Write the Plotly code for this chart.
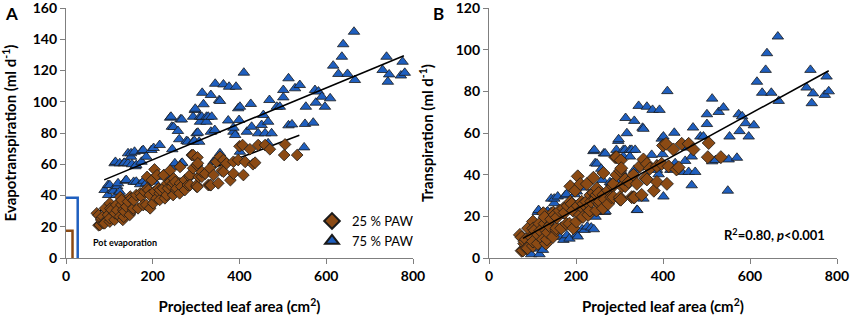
import plotly.graph_objects as go

# ---------------- data ----------------
# 75 % PAW : projected leaf area (cm2) and evapotranspiration (ml/d)
paw75_area = [89, 97, 97, 101, 108, 110, 112, 114, 116, 118, 120, 124, 124, 133, 135, 137, 139, 143, 143, 150,
              150, 152, 156, 158, 160, 162, 162, 171, 174, 175, 178, 179, 185, 185, 197, 201, 202, 204, 214, 216,
              220, 226, 235, 240, 241, 242, 244, 245, 245, 248, 251, 258, 261, 264, 266, 267, 268, 278, 281, 293,
              293, 296, 297, 298, 301, 304, 307, 309, 309, 313, 314, 317, 324, 324, 328, 334, 334, 336, 340, 341,
              343, 344, 353, 355, 355, 363, 374, 376, 386, 386, 390, 392, 397, 399, 401, 401, 410, 417, 426, 428,
              443, 451, 455, 459, 466, 466, 469, 474, 486, 493, 501, 501, 513, 513, 521, 528, 539, 549, 551, 553,
              570, 574, 576, 582, 590, 597, 609, 616, 628, 636, 639, 649, 664, 666, 730, 739, 742, 745, 772, 776, 781]
paw75_et = [43.5, 40.3, 46.7, 46.6, 43.5, 43.0, 60.6, 61.5, 40.3, 46.0, 47.8, 42.4, 60.6, 60.6, 60.9, 49.4, 49.9, 60.6, 67.0, 64.8,
            67.0, 60.0, 48.7, 68.0, 58.7, 48.8, 59.5, 47.2, 61.6, 68.5, 69.1, 49.4, 64.8, 47.8, 69.1, 49.8, 70.4, 48.8, 52.3, 72.3,
            52.0, 53.6, 53.1, 89.8, 52.3, 90.4, 84.0, 58.3, 69.6, 83.8, 60.6, 81.3, 76.0, 88.7, 60.6, 88.7, 60.9, 74.9, 74.4, 74.4,
            90.4, 74.9, 94.7, 95.5, 79.8, 80.2, 74.4, 87.2, 90.4, 90.4, 105.7, 98.4, 90.4, 87.2, 90.4, 104.3, 80.8, 90.4, 61.6, 61.5,
            81.9, 111.5, 101.0, 67.0, 100.5, 111.1, 88.0, 109.6, 80.8, 83.4, 78.7, 109.6, 95.8, 88.3, 96.8, 68.0, 118.6, 80.8, 98.6, 84.0,
            79.8, 85.1, 91.5, 79.8, 87.2, 73.4, 101.1, 79.8, 96.8, 96.8, 107.5, 102.8, 115.0, 84.9, 85.5, 108.6, 110.7, 70.8, 85.8, 96.8,
            86.6, 107.5, 99.4, 106.5, 103.2, 96.8, 102.2, 123.1, 117.8, 128.8, 136.8, 117.8, 144.8, 113.9, 120.3, 128.8, 112.8, 117.5, 116.8, 125.6, 118.5]

# 25 % PAW : projected leaf area (cm2) and evapotranspiration (ml/d)
paw25_area = [71, 75, 75, 78, 81, 82, 85, 86, 89, 90, 97, 101, 101, 101, 102, 105, 112, 113, 116, 118,
              124, 125, 128, 128, 131, 132, 133, 135, 139, 143, 147, 148, 151, 155, 155, 156, 162, 166, 171, 174,
              178, 181, 185, 187, 187, 190, 193, 194, 198, 201, 204, 204, 209, 210, 213, 216, 216, 217, 224, 225,
              228, 232, 233, 235, 240, 240, 244, 247, 247, 248, 252, 254, 255, 262, 263, 263, 266, 274, 274, 281,
              285, 286, 286, 290, 293, 293, 301, 301, 302, 303, 303, 304, 306, 313, 313, 321, 328, 332, 332, 334,
              340, 347, 351, 355, 359, 363, 363, 370, 379, 386, 386, 397, 400, 407, 409, 413, 424, 431, 436, 443,
              459, 470, 503, 505, 533]
paw25_et = [28.6, 27.4, 21.0, 21.1, 24.4, 25.4, 26.5, 22.2, 22.2, 31.8, 27.6, 23.3, 35.0, 25.4, 31.7, 30.8, 24.4, 28.6, 34.0, 30.6,
            26.5, 39.0, 34.0, 37.1, 24.4, 30.7, 26.4, 29.7, 32.9, 36.1, 27.6, 39.3, 38.2, 30.8, 31.8, 37.0, 40.3, 31.8, 41.3, 39.3,
            33.9, 42.5, 34.0, 44.5, 51.9, 43.5, 40.3, 31.8, 49.8, 35.0, 42.5, 56.7, 38.2, 53.0, 44.5, 41.4, 37.2, 43.5, 44.6, 53.0,
            38.2, 40.3, 47.7, 44.6, 56.0, 48.8, 45.7, 47.8, 40.3, 50.9, 48.7, 43.5, 44.6, 41.4, 47.8, 58.3, 45.7, 49.9, 43.5, 46.7,
            52.0, 53.1, 46.7, 65.9, 65.9, 57.4, 45.7, 46.7, 59.4, 64.4, 45.5, 60.6, 51.9, 52.0, 55.2, 54.0, 46.7, 46.7, 57.4, 46.6,
            53.1, 61.6, 47.8, 64.8, 56.0, 55.2, 62.7, 60.5, 49.8, 54.0, 61.6, 62.7, 71.5, 72.3, 53.1, 61.5, 69.6, 60.0, 61.0, 72.3,
            72.3, 69.6, 65.9, 72.7, 65.9]

# fitted regression lines (end points)
fit75_x = [88, 779]
fit75_y = [50, 129.5]
fit25_x = [75, 538]
fit25_y = [30, 78.5]
fitB_x = [78, 781]
fitB_y = [9.4, 89.9]

# pot evaporation (ml/d) per treatment, drawn as open bars of given width on x
pot_evap = {"25": 17.5, "75": 38.5}
pot_bar_width = {"25": 15, "75": 27}

# transpiration = evapotranspiration - pot evaporation
paw25_tr = [v - pot_evap["25"] for v in paw25_et]
paw75_tr = [v - pot_evap["75"] for v in paw75_et]

# ---------------- styling ----------------
BLUE = "#1f5fbf"
BROWN = "#8b4a14"
EDGE = "#1a1a1a"
AXIS = "#7f7f7f"
FONT = "Lato"

fig = go.Figure()

# Panel A
fig.add_trace(go.Scatter(x=fit25_x, y=fit25_y, mode="lines", line=dict(color="black", width=1.6),
                         showlegend=False, xaxis="x", yaxis="y"))
fig.add_trace(go.Scatter(x=paw75_area, y=paw75_et, mode="markers", name="75 % PAW",
                         marker=dict(symbol="triangle-up", size=10, color=BLUE, line=dict(color=EDGE, width=0.8)),
                         xaxis="x", yaxis="y", legendrank=2, cliponaxis=False))
fig.add_trace(go.Scatter(x=paw25_area, y=paw25_et, mode="markers", name="25 % PAW",
                         marker=dict(symbol="diamond", size=9, color=BROWN, line=dict(color=EDGE, width=0.8)),
                         xaxis="x", yaxis="y", legendrank=1, cliponaxis=False))
fig.add_trace(go.Scatter(x=fit75_x, y=fit75_y, mode="lines", line=dict(color="black", width=1.6),
                         showlegend=False, xaxis="x", yaxis="y"))
for key, col in (("75", BLUE), ("25", BROWN)):
    w = pot_bar_width[key]
    h = pot_evap[key]
    fig.add_trace(go.Scatter(x=[0, w, w], y=[h, h, 0], mode="lines",
                             line=dict(color=col, width=2.5), showlegend=False,
                             xaxis="x", yaxis="y", cliponaxis=False))

# Panel B
fig.add_trace(go.Scatter(x=paw75_area, y=paw75_tr, mode="markers", showlegend=False,
                         marker=dict(symbol="triangle-up", size=10, color=BLUE, line=dict(color=EDGE, width=0.8)),
                         xaxis="x2", yaxis="y2", cliponaxis=False))
fig.add_trace(go.Scatter(x=paw25_area, y=paw25_tr, mode="markers", showlegend=False,
                         marker=dict(symbol="diamond", size=10, color=BROWN, line=dict(color=EDGE, width=0.8)),
                         xaxis="x2", yaxis="y2", cliponaxis=False))
fig.add_trace(go.Scatter(x=fitB_x, y=fitB_y, mode="lines", line=dict(color="black", width=1.6),
                         showlegend=False, xaxis="x2", yaxis="y2"))

W, H = 851, 319
ydom = [(H - 258) / H, (H - 8) / H]
tickfont = dict(family=FONT, size=14, color="black", weight="bold")
titlefont = dict(family=FONT, size=15, color="black", weight="bold")

axis_common = dict(showline=True, linecolor=AXIS, linewidth=1.3, ticks="outside", ticklen=5,
                   tickcolor=AXIS, tickwidth=1.3, showgrid=False, zeroline=False, tickfont=tickfont,
                   ticklabeloverflow="allow", automargin=False)

fig.update_layout(
    width=W, height=H,
    margin=dict(l=0, r=0, t=0, b=0, autoexpand=False),
    paper_bgcolor="white", plot_bgcolor="white",
    font=dict(family=FONT, color="black"),
    xaxis=dict(domain=[66 / W, 413 / W], range=[0, 800], tickvals=[0, 200, 400, 600, 800], anchor="y",
               title=dict(text="Projected leaf area (cm<sup>2</sup>)", font=titlefont, standoff=18), **axis_common),
    yaxis=dict(domain=ydom, range=[0, 160], tickvals=[0, 20, 40, 60, 80, 100, 120, 140, 160], anchor="x",
               title=dict(text="Evapotranspiration (ml d<sup>-1</sup>)", font=titlefont, standoff=14), **axis_common),
    xaxis2=dict(domain=[489 / W, 837 / W], range=[0, 800], tickvals=[0, 200, 400, 600, 800], anchor="y2",
                title=dict(text="Projected leaf area (cm<sup>2</sup>)", font=titlefont, standoff=18), **axis_common),
    yaxis2=dict(domain=ydom, range=[0, 120], tickvals=[0, 20, 40, 60, 80, 100, 120], anchor="x2",
                title=dict(text="Transpiration (ml d<sup>-1</sup>)", font=titlefont, standoff=18), **axis_common),
    legend=dict(x=312 / W, y=(H - 206) / H, xanchor="left", yanchor="top",
                bgcolor="rgba(0,0,0,0)", font=dict(family=FONT, size=13, color="black"),
                itemsizing="constant", tracegroupgap=0),
    showlegend=True,
)

fig.add_annotation(text="A", xref="paper", yref="paper", x=3 / W, y=1 - 1 / H, xanchor="left", yanchor="top",
                   showarrow=False, font=dict(family=FONT, size=17, color="black", weight="bold"))
fig.add_annotation(text="B", xref="paper", yref="paper", x=431 / W, y=1 - 1 / H, xanchor="left", yanchor="top",
                   showarrow=False, font=dict(family=FONT, size=17, color="black", weight="bold"))
fig.add_annotation(text="Pot evaporation", xref="x", yref="y", x=58, y=10, xanchor="left", yanchor="middle",
                   showarrow=False, font=dict(family=FONT, size=9, color="black", weight="bold"))
fig.add_annotation(text="R<sup>2</sup>=0.80, <i>p</i><0.001", xref="x2", yref="y2", x=776, y=11.5,
                   xanchor="right", yanchor="middle", showarrow=False,
                   font=dict(family=FONT, size=13, color="black", weight="bold"))

fig.write_html("out.html", config={"displayModeBar": False},
               post_script="document.body.style.margin='0';document.body.style.padding='0';"
                           "document.documentElement.style.overflow='hidden';")
